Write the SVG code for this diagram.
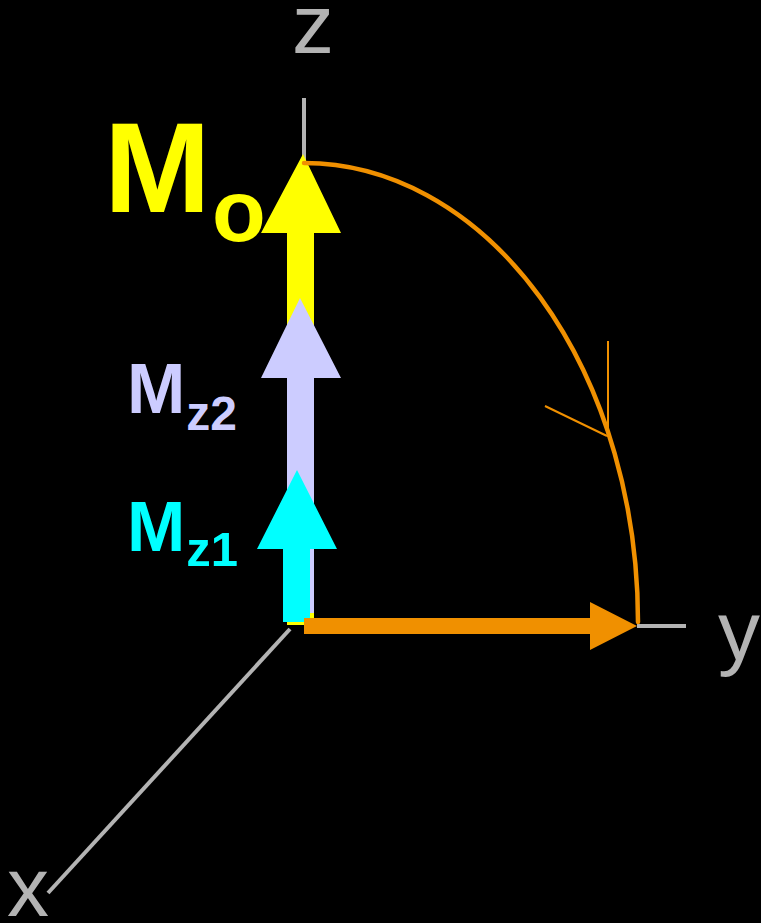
<svg xmlns="http://www.w3.org/2000/svg" width="761" height="923" viewBox="0 0 761 923">
<style>
.axis{stroke:#b3b3b3;stroke-width:4;fill:none}
.lbl{font-family:"Liberation Sans",Arial,sans-serif;fill:#b3b3b3;font-size:84px}
.b{font-family:"Liberation Sans",Arial,sans-serif;font-weight:bold}
.orange{fill:#f09000}
</style>
<rect width="761" height="923" fill="#000"/>
<g id="axes">
<line class="axis" x1="304" y1="98" x2="304" y2="160"/>
<line class="axis" x1="637" y1="626" x2="686" y2="626"/>
<line class="axis" x1="290" y1="629" x2="48" y2="893"/>
</g>
<g id="axis-labels">
<text class="lbl" x="292" y="53">z</text>
<text class="lbl" x="718" y="660">y</text>
<text class="lbl" x="7" y="916">x</text>
</g>
<g id="Mo">
<path d="M287,625 V233 H261 L303,154 L341,233 H314 V625 Z" fill="#ffff00"/>
<text class="b" x="104" y="212" font-size="128" fill="#ffff00">M</text>
<text class="b" x="212" y="241" font-size="88" fill="#ffff00">o</text>
</g>
<g id="Mz2">
<path d="M287,613 V378 H261 L300,298 L341,378 H314 V613 Z" fill="#ccccff"/>
<text class="b" x="127" y="413" font-size="70" fill="#ccccff">M<tspan font-size="48" dx="1" dy="17">z2</tspan></text>
</g>
<g id="Mz1">
<path d="M283,622 V549 H257 L297,470 L337,549 H310 V622 Z" fill="#00ffff"/>
<text class="b" x="127" y="551" font-size="70" fill="#00ffff">M<tspan font-size="49" dx="1" dy="15">z1</tspan></text>
</g>
<g id="connectors">
<path d="M304,163 A334,459 0 0,1 638,622" fill="none" stroke="#f09000" stroke-width="4.5" stroke-linecap="round"/>
<path d="M608,341 V437 M545,406 L607,436" fill="none" stroke="#f09000" stroke-width="2"/>
<path class="orange" d="M304,618 H590 V602 L637,626 L590,650 V634 H304 Z"/>
</g>
</svg>
